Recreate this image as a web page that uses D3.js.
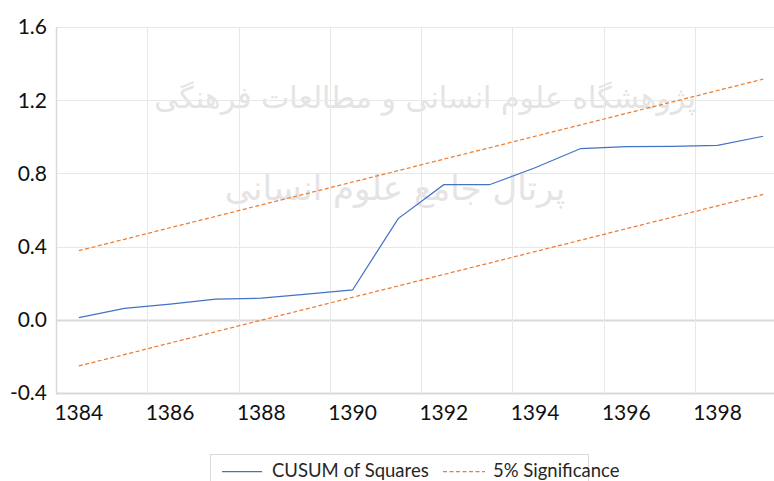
<!DOCTYPE html>
<html>
<head>
<meta charset="utf-8">
<script src="https://cdn.jsdelivr.net/npm/d3@7"></script>
<style>
  body { margin: 0; background: #fff; }
  svg { display: block; font-family: Lato, "Open Sans", sans-serif; }
</style>
</head>
<body>
<div id="content"></div>
<script>
// years on the category axis
const YEARS = [1384, 1385, 1386, 1387, 1388, 1389, 1390, 1391, 1392, 1393, 1394, 1395, 1396, 1397, 1398, 1399];
const CUSUM_SQ = [0.012, 0.062, 0.085, 0.113, 0.118, 0.14, 0.163, 0.553, 0.738, 0.738, 0.831, 0.936, 0.946, 0.948, 0.953, 1.003];
const UPPER_5 = [0.378, 0.44, 0.503, 0.565, 0.628, 0.69, 0.753, 0.815, 0.878, 0.94, 1.003, 1.065, 1.128, 1.19, 1.253, 1.315];
const LOWER_5 = [-0.252, -0.19, -0.127, -0.065, -0.002, 0.06, 0.123, 0.185, 0.248, 0.31, 0.373, 0.435, 0.498, 0.56, 0.623, 0.685];
const Y_TICKS = [-0.4, 0.0, 0.4, 0.8, 1.2, 1.6];
const X_LABELS = [1384, 1386, 1388, 1390, 1392, 1394, 1396, 1398];
const SERIES_NAMES = ['CUSUM of Squares', '5% Significance'];
const WATERMARK = ['پژوهشگاه علوم انسانی و مطالعات فرهنگی', 'پرتال جامع علوم انسانی'];

var width = 774;
var height = 481;

var svg = d3.select('#content')
.append('svg')
.attr('width', width)
.attr('height', height);

// faint watermark behind the plot
var wm = svg.append('g')
.attr('fill', '#e4e4e4')
.attr('font-family', '"DejaVu Sans", sans-serif')
.attr('text-anchor', 'middle');
wm.append('text')
.attr('x', 425).attr('y', 108)
.attr('font-size', 30)
.text(WATERMARK[0]);
wm.append('text')
.attr('x', 395).attr('y', 200)
.attr('font-size', 34)
.text(WATERMARK[1]);

var xScale = d3.scaleBand()
.domain(YEARS)
.range([56, 786]);

var yScale = d3.scaleLinear()
.domain([-0.4, 1.6])
.range([393, 27]);

var xMid = function (d) {return xScale(d) + xScale.bandwidth() / 2};
var fmt = function (d) {return d3.format('.1f')(d).replace('\u2212', '-')};

// horizontal gridlines
svg.append('g')
.selectAll('line')
.data(Y_TICKS)
.enter()
.append('line')
.attr('x1', 56)
.attr('x2', 786)
.attr('y1', function (d) {return Math.round(yScale(d)) + 0.5})
.attr('y2', function (d) {return Math.round(yScale(d)) + 0.5})
.attr('stroke', function (d) {return d === 0 || d === -0.4 ? '#d9d9d9' : '#e8e8e8'})
.attr('stroke-width', function (d) {return d === 0 || d === -0.4 ? 2 : 1});

// vertical gridlines every second category
svg.append('g')
.selectAll('line')
.data(X_LABELS.slice(1))
.enter()
.append('line')
.attr('x1', function (d) {return Math.round(xScale(d)) + 0.5})
.attr('x2', function (d) {return Math.round(xScale(d)) + 0.5})
.attr('y1', 27)
.attr('y2', 393)
.attr('stroke', '#e8e8e8');

// y axis line
svg.append('line')
.attr('x1', 56.5).attr('x2', 56.5)
.attr('y1', 27).attr('y2', 394)
.attr('stroke', '#d9d9d9')
.attr('stroke-width', 1.5);

// y tick labels
svg.append('g')
.selectAll('text')
.data(Y_TICKS)
.enter()
.append('text')
.attr('x', 47)
.attr('y', function (d) {return yScale(d)})
.attr('dy', '0.35em')
.attr('text-anchor', 'end')
.attr('font-size', 21)
.attr('fill', '#111')
.text(fmt);

// x tick labels
svg.append('g')
.selectAll('text')
.data(X_LABELS)
.enter()
.append('text')
.attr('x', xMid)
.attr('y', 413)
.attr('dy', '0.35em')
.attr('text-anchor', 'middle')
.attr('font-size', 21)
.attr('fill', '#111')
.text(function (d) {return d});

var line = function (vals) {
    return d3.line()
    .x(function (d, i) {return xMid(YEARS[i])})
    .y(function (d) {return yScale(d)})(vals);
};

svg.append('path')
.attr('d', line(UPPER_5))
.attr('fill', 'none')
.attr('stroke', '#ED7D31')
.attr('stroke-width', 1.25)
.attr('stroke-dasharray', '4,2.5');

svg.append('path')
.attr('d', line(LOWER_5))
.attr('fill', 'none')
.attr('stroke', '#ED7D31')
.attr('stroke-width', 1.25)
.attr('stroke-dasharray', '4,2.5');

svg.append('path')
.attr('d', line(CUSUM_SQ))
.attr('fill', 'none')
.attr('stroke', '#4472C4')
.attr('stroke-width', 1.25);

// legend
var legend = svg.append('g');
legend.append('rect')
.attr('x', 210.5).attr('y', 454.5)
.attr('width', 378).attr('height', 40)
.attr('fill', '#fff')
.attr('stroke', '#d9d9d9');

legend.append('line')
.attr('x1', 222).attr('x2', 262)
.attr('y1', 471.5).attr('y2', 471.5)
.attr('stroke', '#4472C4')
.attr('stroke-width', 1.25);
legend.append('text')
.attr('x', 272).attr('y', 471)
.attr('dy', '0.35em')
.attr('font-size', 18.5)
.attr('fill', '#262626')
.text(SERIES_NAMES[0]);

legend.append('line')
.attr('x1', 443).attr('x2', 485)
.attr('y1', 471.5).attr('y2', 471.5)
.attr('stroke', '#ED7D31')
.attr('stroke-width', 1.25)
.attr('stroke-dasharray', '4,2.5');
legend.append('text')
.attr('x', 493).attr('y', 471)
.attr('dy', '0.35em')
.attr('font-size', 18.5)
.attr('fill', '#262626')
.text(SERIES_NAMES[1]);
</script>
</body>
</html>
